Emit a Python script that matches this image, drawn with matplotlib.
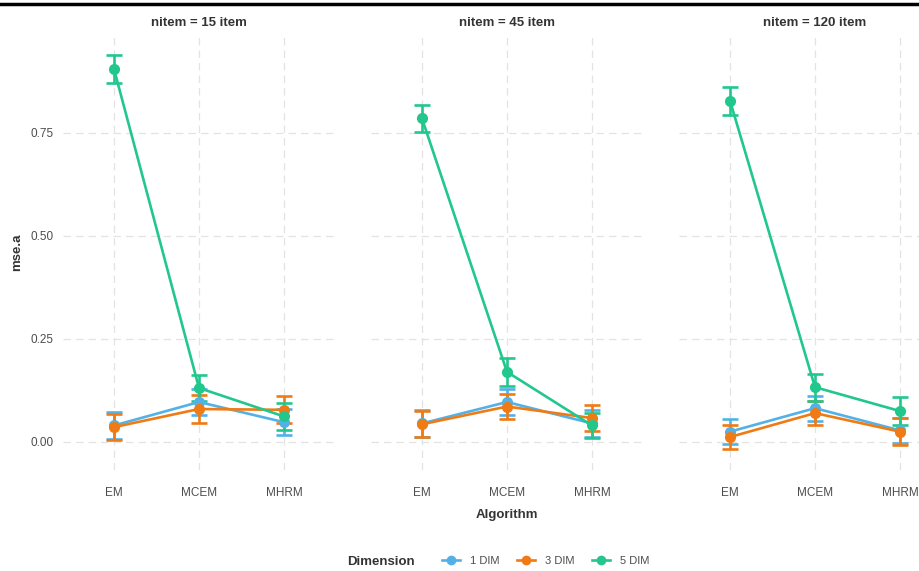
import matplotlib
matplotlib.use("Agg")
import matplotlib.pyplot as plt
from matplotlib.lines import Line2D

plt.rcParams["font.family"] = ["Liberation Sans", "DejaVu Sans"]

algorithms = ["EM", "MCEM", "MHRM"]
panels = ["nitem = 15 item", "nitem = 45 item", "nitem = 120 item"]
dimensions = ["1 DIM", "3 DIM", "5 DIM"]
colors = ["#52B2E8", "#F07B14", "#22C78E"]

# mean mse.a per panel, dimension, algorithm
mse_1dim = [[0.040, 0.097, 0.048], [0.045, 0.097, 0.045], [0.025, 0.082, 0.028]]
mse_3dim = [[0.036, 0.080, 0.078], [0.043, 0.086, 0.058], [0.012, 0.070, 0.025]]
mse_5dim = [[0.905, 0.131, 0.062], [0.785, 0.170, 0.040], [0.828, 0.133, 0.075]]

# half-width of error bars
err_1dim = [[0.032, 0.031, 0.032], [0.032, 0.031, 0.032], [0.030, 0.030, 0.030]]
err_3dim = [[0.032, 0.033, 0.033], [0.032, 0.031, 0.031], [0.030, 0.030, 0.033]]
err_5dim = [[0.034, 0.032, 0.032], [0.033, 0.033, 0.030], [0.034, 0.033, 0.035]]

means = [mse_1dim, mse_3dim, mse_5dim]
errs = [err_1dim, err_3dim, err_5dim]

W, H = 920, 571
fig = plt.figure(figsize=(W / 100, H / 100), dpi=100)

panel_left = [63, 371, 679]
panel_w = 272
top, bottom = 34, 470

axes = []
for p, title in enumerate(panels):
    ax = fig.add_axes([panel_left[p] / W, 1 - bottom / H, panel_w / W, (bottom - top) / H])
    axes.append(ax)
    x = list(range(len(algorithms)))
    for d in range(len(dimensions)):
        ax.errorbar(x, means[d][p], yerr=errs[d][p], color=colors[d], lw=1.9,
                    marker="o", ms=7, capsize=6, capthick=1.9, elinewidth=1.9, zorder=3)
    ax.set_xlim(-0.6, 2.6)
    ax.set_ylim(-0.068, 0.99)
    ax.set_xticks(x)
    ax.set_xticklabels(algorithms)
    ax.set_yticks([0, 0.25, 0.5, 0.75])
    ax.set_yticklabels(["0.00", "0.25", "0.50", "0.75"])
    ax.grid(True, color="#e3e3e3", ls=(0, (6, 4)), lw=0.9, zorder=0)
    ax.tick_params(length=0, labelsize=8.5, colors="#4d4d4d")
    ax.tick_params(axis="x", pad=12)
    ax.tick_params(axis="y", pad=7)
    for s in ax.spines.values():
        s.set_visible(False)
    ax.set_title(title, fontsize=9.5, fontweight="bold", color="#333333", pad=6)
    if p > 0:
        ax.tick_params(labelleft=False)

axes[0].set_ylabel("mse.a", fontsize=9.5, fontweight="bold", color="#333333", labelpad=5)
fig.text(507 / W, 1 - 515 / H, "Algorithm", ha="center", va="center",
         fontsize=9.5, fontweight="bold", color="#333333")

handles = [Line2D([], [], color=c, lw=1.9, marker="o", ms=6) for c in colors]
fig.text(381 / W, 1 - 562 / H, "Dimension", ha="center", va="center",
         fontsize=9.5, fontweight="bold", color="#333333")
leg = fig.legend(handles, dimensions, loc="center", bbox_to_anchor=(546 / W, 1 - 561 / H),
                 ncol=3, frameon=False, fontsize=8, handlelength=1.6, columnspacing=1.6,
                 handletextpad=0.9)
for t in leg.get_texts():
    t.set_color("#4d4d4d")

fig.add_artist(Line2D([0, 1], [1 - 4 / H, 1 - 4 / H], color="black", lw=2.5))

fig.savefig("out.png", dpi=100)
